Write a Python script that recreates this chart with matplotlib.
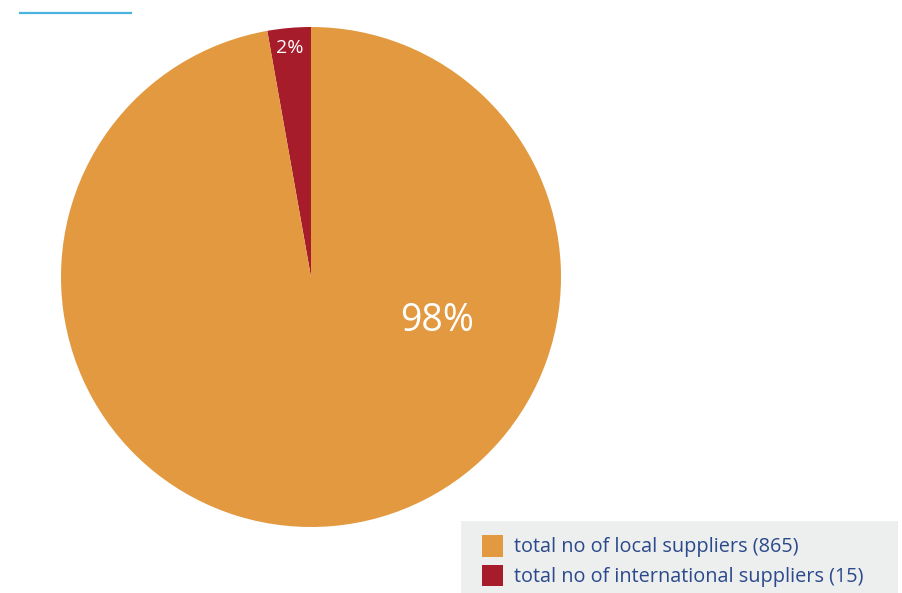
import matplotlib
matplotlib.use('Agg')
import matplotlib.pyplot as plt
from matplotlib.patches import Rectangle

plt.rcParams['font.family'] = ['Open Sans', 'DejaVu Sans']

# shares as drawn in the picture (the wedge looks a bit wider than 15/880)
categories = ['total no of international suppliers (15)', 'total no of local suppliers (865)']
shares = [2.8, 97.2]
pct_labels = ['2%', '98%']
colors = ['#A61C2B', '#E2993F']

fig = plt.figure(figsize=(9.03, 5.93), dpi=100)

# thin blue rule top-left
fig.add_artist(plt.Line2D([20/903, 131/903], [1 - 13/593, 1 - 13/593],
                          color='#4BB3E0', lw=1.6))

ax = fig.add_axes([61/903, 66/593, 500/903, 500/593])
wedges, _ = ax.pie(shares, colors=colors, startangle=90, counterclock=True,
                   radius=1, wedgeprops={'linewidth': 0})
ax.set_xlim(-1, 1)
ax.set_ylim(-1, 1)
ax.set_aspect('equal')

ax.text(-0.085, 0.915, pct_labels[0], color='white', fontsize=14,
        ha='center', va='center')
ax.text(0.505, -0.175, pct_labels[1], color='white', fontsize=27,
        ha='center', va='center')

# legend panel
fig.add_artist(Rectangle((461/903, 0), (898 - 461)/903, 72/593,
                         transform=fig.transFigure, facecolor='#EDEEEE',
                         edgecolor='none', zorder=0))
leg = fig.legend([wedges[1], wedges[0]], [categories[1], categories[0]],
                 loc='upper left', bbox_to_anchor=(466/903, 1 - 519/593),
                 frameon=False, fontsize=14.3, labelcolor='#2B4A8B',
                 handlelength=1.08, handleheight=1.3, handletextpad=0.55,
                 labelspacing=0.36, borderpad=0.3)

fig.savefig('out.png', dpi=100)
